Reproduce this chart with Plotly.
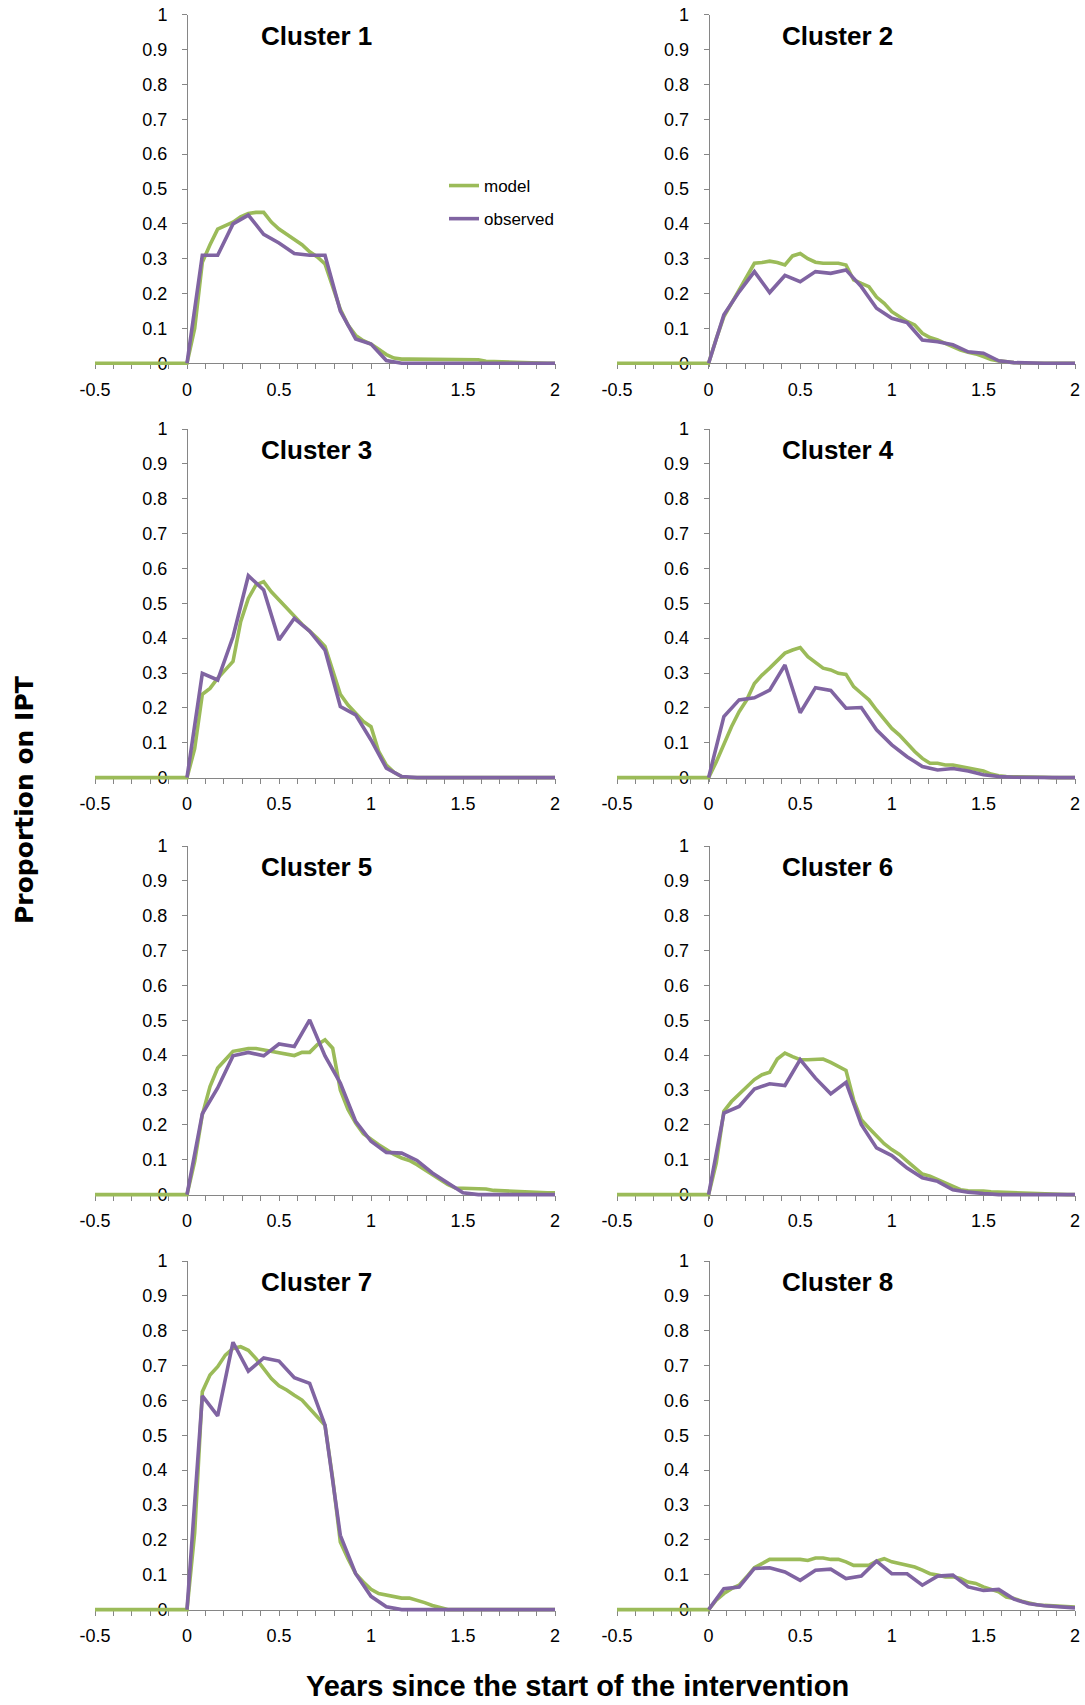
import plotly.graph_objects as go

# ---- time grids (years since start of the intervention) ----
OBS_T = [k / 12 for k in range(25)]                 # monthly observations, 0..2
MODEL_T = [-0.5] + [k / 24 for k in range(49)]      # model output, -0.5 then half-monthly 0..2

CLUSTERS = ["Cluster 1", "Cluster 2", "Cluster 3", "Cluster 4",
            "Cluster 5", "Cluster 6", "Cluster 7", "Cluster 8"]

# ---- observed proportion on IPT (one value per month) ----
obs_c1 = [0, 0.31, 0.31, 0.40, 0.425, 0.37, 0.345, 0.315, 0.31, 0.31, 0.15, 0.07, 0.055,
          0.008, 0, 0, 0, 0, 0, 0, 0, 0, 0, 0, 0]
obs_c2 = [0, 0.139, 0.205, 0.263, 0.203, 0.252, 0.234, 0.263, 0.258, 0.268, 0.22, 0.158,
          0.129, 0.117, 0.067, 0.062, 0.053, 0.033, 0.029, 0.007, 0.002, 0, 0, 0, 0]
obs_c3 = [0, 0.299, 0.28, 0.404, 0.579, 0.538, 0.395, 0.457, 0.42, 0.366, 0.204, 0.18,
          0.108, 0.027, 0.003, 0, 0, 0, 0, 0, 0, 0, 0, 0, 0]
obs_c4 = [0, 0.175, 0.223, 0.229, 0.251, 0.323, 0.186, 0.258, 0.25, 0.199, 0.201, 0.137,
          0.094, 0.06, 0.032, 0.022, 0.026, 0.019, 0.008, 0.003, 0.001, 0, 0, 0, 0]
obs_c5 = [0, 0.232, 0.306, 0.398, 0.408, 0.398, 0.432, 0.425, 0.501, 0.398, 0.32, 0.21,
          0.153, 0.121, 0.119, 0.098, 0.062, 0.033, 0.005, 0, 0, 0, 0, 0, 0]
obs_c6 = [0, 0.234, 0.253, 0.303, 0.318, 0.313, 0.387, 0.334, 0.289, 0.322, 0.201, 0.134,
          0.112, 0.076, 0.048, 0.038, 0.014, 0.007, 0.003, 0, 0, 0, 0, 0, 0]
obs_c7 = [0, 0.613, 0.556, 0.767, 0.684, 0.722, 0.713, 0.665, 0.649, 0.529, 0.213, 0.103,
          0.038, 0.008, 0, 0, 0, 0, 0, 0, 0, 0, 0, 0, 0]
obs_c8 = [0, 0.06, 0.065, 0.118, 0.12, 0.108, 0.084, 0.113, 0.116, 0.089, 0.096, 0.139,
          0.103, 0.103, 0.07, 0.096, 0.099, 0.065, 0.055, 0.058, 0.03, 0.017, 0.011, 0.009, 0.005]

# ---- model proportion on IPT (value at -0.5, then every half month) ----
mod_c1 = [0, 0, 0.10, 0.29, 0.34, 0.385, 0.395, 0.405, 0.42, 0.43, 0.433, 0.433, 0.405,
          0.385, 0.37, 0.355, 0.34, 0.32, 0.305, 0.285, 0.22, 0.155, 0.11, 0.08, 0.065,
          0.055, 0.04, 0.025, 0.015, 0.012, 0.012, 0.012, 0.01, 0.01, 0.01, 0.01, 0.01,
          0.01, 0.01, 0.01, 0.006, 0.005, 0.004, 0.003, 0.002, 0.001, 0, 0, 0, 0]
mod_c2 = [0, 0, 0.07, 0.134, 0.172, 0.21, 0.249, 0.287, 0.289, 0.293, 0.289, 0.282, 0.308,
          0.315, 0.30, 0.29, 0.287, 0.287, 0.287, 0.282, 0.239, 0.229, 0.22, 0.19, 0.172,
          0.148, 0.134, 0.12, 0.11, 0.086, 0.074, 0.067, 0.057, 0.048, 0.038, 0.032, 0.027,
          0.019, 0.011, 0.007, 0.004, 0.002, 0.001, 0, 0, 0, 0, 0, 0, 0]
mod_c3 = [0, 0, 0.083, 0.239, 0.256, 0.285, 0.309, 0.333, 0.447, 0.514, 0.553, 0.562,
          0.533, 0.51, 0.486, 0.462, 0.44, 0.42, 0.40, 0.376, 0.304, 0.239, 0.208, 0.185,
          0.161, 0.146, 0.075, 0.036, 0.015, 0.003, 0, 0, 0, 0, 0, 0, 0, 0, 0, 0, 0, 0, 0,
          0, 0, 0, 0, 0, 0, 0]
mod_c4 = [0, 0, 0.045, 0.098, 0.146, 0.189, 0.223, 0.27, 0.294, 0.314, 0.337, 0.357, 0.366,
          0.373, 0.347, 0.331, 0.314, 0.309, 0.299, 0.296, 0.261, 0.242, 0.223, 0.194,
          0.168, 0.141, 0.122, 0.098, 0.075, 0.055, 0.041, 0.041, 0.036, 0.036, 0.032,
          0.029, 0.025, 0.019, 0.01, 0.005, 0.003, 0.003, 0.003, 0.002, 0.002, 0.001, 0,
          0, 0, 0]
mod_c5 = [0, 0, 0.095, 0.229, 0.31, 0.363, 0.387, 0.411, 0.415, 0.419, 0.419, 0.415, 0.412,
          0.408, 0.404, 0.399, 0.408, 0.408, 0.43, 0.444, 0.42, 0.30, 0.244, 0.205, 0.175,
          0.158, 0.143, 0.129, 0.115, 0.105, 0.098, 0.086, 0.072, 0.057, 0.043, 0.029,
          0.019, 0.018, 0.016, 0.016, 0.016, 0.012, 0.011, 0.009, 0.007, 0.006, 0.006,
          0.005, 0.005, 0.005]
mod_c6 = [0, 0, 0.09, 0.239, 0.267, 0.287, 0.31, 0.33, 0.344, 0.351, 0.389, 0.406, 0.396,
          0.387, 0.387, 0.387, 0.389, 0.379, 0.368, 0.356, 0.272, 0.215, 0.191, 0.167,
          0.146, 0.129, 0.115, 0.096, 0.076, 0.059, 0.053, 0.043, 0.032, 0.022, 0.014,
          0.011, 0.011, 0.01, 0.008, 0.007, 0.007, 0.007, 0.006, 0.005, 0.004, 0.003,
          0.002, 0.001, 0, 0]
mod_c7 = [0, 0, 0.22, 0.625, 0.673, 0.697, 0.73, 0.749, 0.754, 0.744, 0.72, 0.692, 0.663,
          0.642, 0.63, 0.615, 0.601, 0.577, 0.553, 0.529, 0.376, 0.194, 0.146, 0.103,
          0.079, 0.058, 0.046, 0.041, 0.036, 0.033, 0.033, 0.027, 0.02, 0.012, 0.005, 0,
          0, 0, 0, 0, 0, 0, 0, 0, 0, 0, 0, 0, 0, 0]
mod_c8 = [0, 0, 0.027, 0.046, 0.06, 0.07, 0.094, 0.12, 0.132, 0.144, 0.144, 0.144, 0.144,
          0.144, 0.141, 0.148, 0.148, 0.144, 0.144, 0.137, 0.127, 0.127, 0.127, 0.139,
          0.146, 0.137, 0.132, 0.125, 0.122, 0.113, 0.103, 0.099, 0.094, 0.094, 0.089,
          0.079, 0.075, 0.065, 0.058, 0.051, 0.036, 0.032, 0.024, 0.019, 0.014, 0.012,
          0.011, 0.01, 0.009, 0.007]

OBSERVED = [obs_c1, obs_c2, obs_c3, obs_c4, obs_c5, obs_c6, obs_c7, obs_c8]
MODEL = [mod_c1, mod_c2, mod_c3, mod_c4, mod_c5, mod_c6, mod_c7, mod_c8]

X_TICKS = [-0.5, 0, 0.5, 1, 1.5, 2]
X_TICK_TEXT = ["-0.5", "0", "0.5", "1", "1.5", "2"]
X_MINOR = [round(-0.5 + 0.1 * i, 2) for i in range(26)]
Y_TICKS = [round(0.1 * i, 1) for i in range(11)]
Y_TICK_TEXT = ["0", "0.1", "0.2", "0.3", "0.4", "0.5", "0.6", "0.7", "0.8", "0.9", "1"]

# ---- page geometry (pixels) ----
W, H = 1085, 1705
COL_PX = [(95, 555), (617, 1075)]
ROW_TOP_PX = [14.7, 429, 846, 1261]
PLOT_H = 348.6
Y_MIN = -0.012   # a little room below zero so the zero-level lines are not clipped

GREEN = "#9BBB59"
PURPLE = "#8064A2"
AXIS_GREY = "#868686"
FONT = "Liberation Sans, Arial, sans-serif"

fig = go.Figure()
layout = {}

for i, name in enumerate(CLUSTERS):
    r, c = divmod(i, 2)
    n = i + 1
    xa, ya = f"x{n}", f"y{n}"
    xk = "xaxis" if n == 1 else f"xaxis{n}"
    yk = "yaxis" if n == 1 else f"yaxis{n}"

    x0, x1 = COL_PX[c]
    top = ROW_TOP_PX[r]
    zero_px = top + PLOT_H
    bottom = zero_px + (-Y_MIN) * PLOT_H

    fig.add_trace(go.Scatter(
        x=MODEL_T, y=MODEL[i], mode="lines", name="model",
        line=dict(color=GREEN, width=3.6), xaxis=xa, yaxis=ya,
        showlegend=(i == 0), legendgroup="model"))
    fig.add_trace(go.Scatter(
        x=OBS_T, y=OBSERVED[i], mode="lines", name="observed",
        line=dict(color=PURPLE, width=3.6), xaxis=xa, yaxis=ya,
        showlegend=(i == 0), legendgroup="observed"))

    zero_x_paper = (x0 + (0 - (-0.5)) / 2.5 * (x1 - x0)) / W

    layout[xk] = dict(
        domain=[x0 / W, x1 / W], range=[-0.5, 2], automargin=False,
        anchor="free", position=1 - zero_px / H,
        showgrid=False, zeroline=False,
        showline=True, linecolor=AXIS_GREY, linewidth=1,
        tickmode="array", tickvals=X_TICKS, ticktext=X_TICK_TEXT,
        ticks="outside", ticklen=5, tickcolor=AXIS_GREY,
        minor=dict(tickvals=X_MINOR, ticks="outside", ticklen=5, tickcolor=AXIS_GREY),
        tickfont=dict(family=FONT, size=18, color="#000000"),
        ticklabelstandoff=5, layer="below traces", fixedrange=True,
    )
    layout[yk] = dict(
        domain=[1 - bottom / H, 1 - top / H], range=[Y_MIN, 1], automargin=False,
        anchor="free", position=zero_x_paper,
        showgrid=False, zeroline=False,
        showline=True, linecolor=AXIS_GREY, linewidth=1,
        tickmode="array", tickvals=Y_TICKS, ticktext=Y_TICK_TEXT,
        ticks="outside", ticklen=5, tickcolor=AXIS_GREY,
        tickfont=dict(family=FONT, size=18, color="#000000"),
        ticklabelstandoff=11, layer="below traces", fixedrange=True,
    )

    fig.add_annotation(
        x=0.706, y=0.94, xref=xa, yref=ya, text=f"<b>{name}</b>",
        showarrow=False, font=dict(family=FONT, size=26, color="#000000"),
        xanchor="center", yanchor="middle")

# axis titles shared by all panels
fig.add_annotation(
    x=24 / W, y=1 - 800 / H, xref="paper", yref="paper",
    text="<b>Proportion on IPT</b>", textangle=-90, showarrow=False,
    font=dict(family="DejaVu Sans, sans-serif", size=25, color="#000000"),
    xanchor="center", yanchor="middle")
fig.add_annotation(
    x=577 / W, y=1 - 1686 / H, xref="paper", yref="paper",
    text="<b>Years since the start of the intervention</b>", showarrow=False,
    font=dict(family=FONT, size=29, color="#000000"),
    xanchor="center", yanchor="middle")

fig.update_layout(
    width=W, height=H,
    margin=dict(l=0, r=0, t=0, b=0, autoexpand=False),
    paper_bgcolor="white", plot_bgcolor="white",
    showlegend=True,
    legend=dict(
        x=444 / W, y=1 - 168 / H, xanchor="left", yanchor="top",
        bgcolor="rgba(0,0,0,0)", borderwidth=0,
        font=dict(family=FONT, size=17, color="#000000"),
        traceorder="grouped", tracegroupgap=8, itemwidth=30,
    ),
    **layout,
)

fig.write_html("out.html")

# the page should hold the figure flush against its edges
with open("out.html", encoding="utf-8") as fh:
    page = fh.read()
page = page.replace(
    "<head>",
    "<head><style>html,body{margin:0;padding:0;overflow:hidden;}</style>", 1)
with open("out.html", "w", encoding="utf-8") as fh:
    fh.write(page)
